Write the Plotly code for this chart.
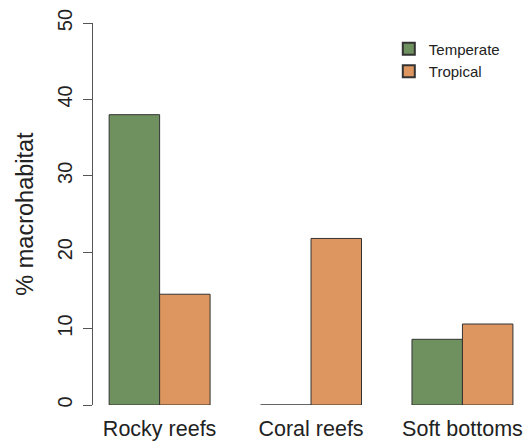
import plotly.graph_objects as go

categories = ["Rocky reefs", "Coral reefs", "Soft bottoms"]
temperate = [38.0, 0.0, 8.6]
tropical = [14.5, 21.8, 10.6]
y_ticks = [0, 10, 20, 30, 40, 50]

green = "#6e915f"
orange = "#dd9660"
font_family = "Liberation Sans, Arial, sans-serif"

fig = go.Figure()
fig.add_trace(go.Bar(x=categories, y=temperate, name="Temperate",
                     marker=dict(color=green, line=dict(color="#333333", width=1))))
fig.add_trace(go.Bar(x=categories, y=tropical, name="Tropical",
                     marker=dict(color=orange, line=dict(color="#333333", width=1))))

fig.update_layout(
    width=528, height=443,
    margin=dict(l=93, r=0, t=23, b=38, autoexpand=False),
    paper_bgcolor="white", plot_bgcolor="white",
    barmode="group", bargap=1/3, bargroupgap=0,
    font=dict(family=font_family, color="#222222"),
    showlegend=True,
    legend=dict(x=0.68, y=0.975, xanchor="left", yanchor="top",
                bgcolor="rgba(0,0,0,0)", font=dict(size=15, color="#222222"),
                tracegroupgap=0, itemsizing="constant"),
    xaxis=dict(range=[-0.44, 2.433], showline=False, showgrid=False, zeroline=False,
               automargin=False,
               ticks="", tickfont=dict(size=21.5, color="#222222"), ticklabelstandoff=8),
    yaxis=dict(range=[0, 50], tickvals=y_ticks, showgrid=False, zeroline=False,
               automargin=False,
               showline=True, linecolor="#555555", linewidth=1,
               ticks="outside", ticklen=9, tickcolor="#555555",
               tickangle=-90, tickfont=dict(size=20, color="#222222"),
               ticklabelstandoff=3,
               title=dict(text="% macrohabitat", font=dict(size=23.5, color="#222222"), standoff=13)),
)

fig.write_html("out.html", config={"displayModeBar": False},
               post_script="document.body.style.margin='0';")
